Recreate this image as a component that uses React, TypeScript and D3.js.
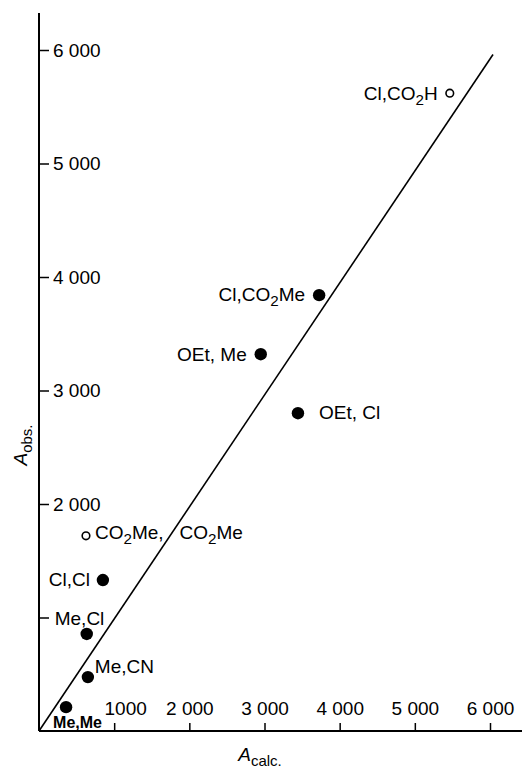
import { useRef, useEffect } from "react";
import * as d3 from "d3";

const labels = ["Cl,CO2H", "Cl,CO2Me", "OEt, Me", "OEt, Cl", "CO2Me,   CO2Me", "Cl,Cl", "Me,Cl", "Me,CN", "Me,Me"];
const aCalc = [5465, 3727, 2950, 3445, 625, 850, 635, 650, 360];
const aObs = [5620, 3840, 3320, 2800, 1720, 1330, 855, 475, 210];
const openMarker = [true, false, false, false, true, false, false, false, false];

const xTicks = [1000, 2000, 3000, 4000, 5000, 6000];
const xTickLabels = ["1000", "2 000", "3 000", "4 000", "5 000", "6 000"];
const yTicks = [1000, 2000, 3000, 4000, 5000, 6000];
const yTickLabels = ["", "2 000", "3 000", "4 000", "5 000", "6 000"];

// fitted line A_obs = A_calc
const fitX = [0, 6040];
const fitY = [0, 5960];

// label placement (anchor, dx, dy from marker centre)
const labelPos: [string, number, number][] = [
  ["end", -12, 7],
  ["end", -14, 6],
  ["end", -14, 7],
  ["start", 21, 6],
  ["start", 9, 3],
  ["end", -13, 6],
  ["start", -32, -9],
  ["start", 7, -4],
  ["start", -13, 21],
];

const FONT = "'Liberation Sans', Arial, sans-serif";
const W = 522;
const H = 768;

// write digits as subscripts (CO2 -> CO₂)
function chem(text: d3.Selection<SVGTextElement, unknown, null, undefined>, label: string, size: number) {
  const parts = label.match(/\d+|[^\d]+/g) || [];
  let prevSub = false;
  parts.forEach((p) => {
    const isSub = /^\d+$/.test(p);
    const t = text.append("tspan").text(p);
    if (isSub) {
      t.attr("font-size", size * 0.8).attr("dy", 5);
    } else if (prevSub) {
      t.attr("dy", -5);
    }
    prevSub = isSub;
  });
}

export default function App() {
  const svgRef = useRef<SVGSVGElement>(null);

  useEffect(() => {
    if (!svgRef.current) return;
    const svg = d3.select(svgRef.current);
    svg.selectAll("*").remove();

    const x = d3.scaleLinear().domain([0, 6000]).range([39, 490]);
    const y = d3.scaleLinear().domain([0, 6000]).range([731, 50]);

    // axes lines
    svg.append("line")
      .attr("x1", x(0)).attr("x2", x(0))
      .attr("y1", y(0)).attr("y2", 13)
      .attr("stroke", "#000").attr("stroke-width", 2);
    svg.append("line")
      .attr("x1", x(0)).attr("x2", W)
      .attr("y1", y(0)).attr("y2", y(0))
      .attr("stroke", "#000").attr("stroke-width", 2);

    // Y axis ticks, pointing inward
    const yAxis = svg.append("g")
      .attr("transform", `translate(${x(0)},0)`)
      .call(
        d3.axisRight(y)
          .tickValues(yTicks)
          .tickSize(10)
          .tickPadding(4)
          .tickFormat((_, i) => yTickLabels[i]),
      );
    yAxis.select(".domain").remove();
    yAxis.selectAll("line").attr("stroke-width", 1.5);
    yAxis.selectAll("text")
      .attr("font-size", 19)
      .attr("font-family", FONT)
      .attr("fill", "#000");

    // X axis ticks, pointing up
    const xAxis = svg.append("g")
      .attr("transform", `translate(0,${y(0)})`)
      .call(
        d3.axisTop(x)
          .tickValues(xTicks)
          .tickSize(8)
          .tickPadding(8)
          .tickFormat((_, i) => xTickLabels[i]),
      );
    xAxis.select(".domain").remove();
    xAxis.selectAll("line").attr("stroke-width", 1.5);
    xAxis.selectAll("text")
      .attr("font-size", 19)
      .attr("font-family", FONT)
      .attr("fill", "#000")
      .attr("dx", (_, i) => (i === 0 ? 11 : 0));

    // fitted line
    const line = d3.line<number>()
      .x((d) => x(d))
      .y((_, i) => y(fitY[i]));
    svg.append("path")
      .datum(fitX)
      .attr("d", line)
      .attr("fill", "none")
      .attr("stroke", "#000")
      .attr("stroke-width", 1.6);

    // markers
    svg.append("g")
      .selectAll("circle")
      .data(aCalc)
      .join("circle")
      .attr("cx", (d) => x(d))
      .attr("cy", (_, i) => y(aObs[i]))
      .attr("r", (_, i) => (openMarker[i] ? 3.8 : 6.2))
      .attr("fill", (_, i) => (openMarker[i] ? "#fff" : "#000"))
      .attr("stroke", "#000")
      .attr("stroke-width", (_, i) => (openMarker[i] ? 1.6 : 0));

    // point labels
    labels.forEach((lab, i) => {
      const [anchor, dx, dy] = labelPos[i];
      const size = lab === "Me,Me" ? 16 : 19;
      const t = svg.append("text")
        .attr("x", x(aCalc[i]) + dx)
        .attr("y", y(aObs[i]) + dy)
        .attr("text-anchor", anchor)
        .attr("font-size", size)
        .attr("font-family", FONT)
        .attr("font-weight", lab === "Me,Me" ? "bold" : "normal")
        .style("white-space", "pre");
      chem(t, lab, size);
    });

    // axis titles
    const yt = svg.append("text")
      .attr("transform", "translate(27,445) rotate(-90)")
      .attr("text-anchor", "middle")
      .attr("font-family", FONT)
      .attr("font-size", 19);
    yt.append("tspan").attr("font-style", "italic").text("A");
    yt.append("tspan").attr("font-size", 15).attr("dy", 5).text("obs.");

    const xt = svg.append("text")
      .attr("x", 260)
      .attr("y", 761)
      .attr("text-anchor", "middle")
      .attr("font-family", FONT)
      .attr("font-size", 19);
    xt.append("tspan").attr("font-style", "italic").text("A");
    xt.append("tspan").attr("font-size", 15).attr("dy", 5).text("calc.");
  }, []);

  return (
    <svg
      ref={svgRef}
      width={W}
      height={H}
      style={{ position: "absolute", left: 0, top: 0, background: "#fff" }}
    />
  );
}
